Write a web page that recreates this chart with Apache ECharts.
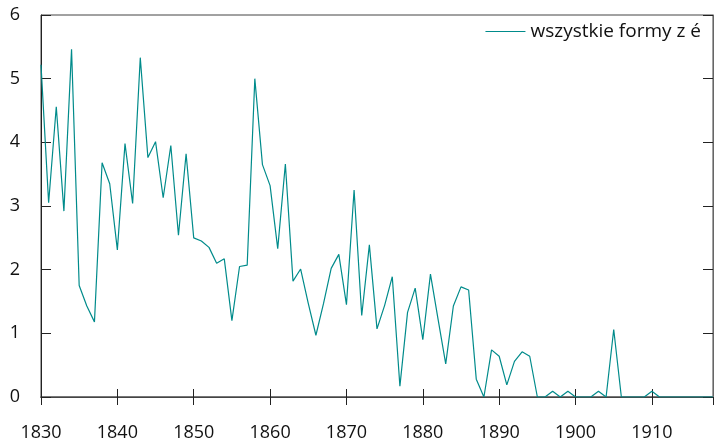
<!DOCTYPE html>
<html>
<head>
<meta charset="utf-8">
<script src="https://cdn.jsdelivr.net/npm/echarts@6/dist/echarts.min.js"></script>
<style>
  html, body { margin: 0; padding: 0; background: #fff; }
  #chart { width: 714px; height: 444px; }
</style>
</head>
<body>
<div id="chart"></div>
<script>
// lata 1830-1918, wartości
var years = [];
for (var y = 1830; y <= 1918; y++) years.push(y);

var values = [
  5.22, 3.05, 4.56, 2.92, 5.46, 1.75, 1.43, 1.18, 3.68, 3.35,
  2.31, 3.98, 3.04, 5.33, 3.76, 4.01, 3.13, 3.95, 2.54, 3.82,
  2.50, 2.45, 2.35, 2.10, 2.17, 1.20, 2.05, 2.07, 5.00, 3.65,
  3.32, 2.33, 3.66, 1.82, 2.01, 1.47, 0.97, 1.47, 2.02, 2.24,
  1.45, 3.25, 1.28, 2.39, 1.07, 1.44, 1.89, 0.17, 1.33, 1.71,
  0.90, 1.93, 1.22, 0.52, 1.43, 1.73, 1.68, 0.28, 0, 0.74,
  0.64, 0.19, 0.56, 0.71, 0.64, 0, 0, 0.09, 0, 0.09,
  0, 0, 0, 0.09, 0, 1.06, 0, 0, 0, 0,
  0.09, 0, 0, 0, 0, 0, 0, 0, 0
];

var seriesName = 'wszystkie formy z é';
var yTicks = [0, 1, 2, 3, 4, 5, 6];

var chart = echarts.init(document.getElementById('chart'));

var points = years.map(function(yr, i) { return [yr, values[i]]; });

option = {
  animation: false,
  backgroundColor: '#fff',
  textStyle: {fontFamily: 'Open Sans'},
  grid: {
    left: 41,
    right: 1,
    top: 15,
    bottom: 47,
    show: true,
    borderColor: '#444',
    borderWidth: 1
  },
  legend: {
    data: [seriesName],
    right: 8,
    top: 17,
    icon: 'rect',
    itemWidth: 40,
    itemHeight: 1.2,
    itemGap: 8,
    textStyle: {fontSize: 19, color: '#111', fontFamily: 'Open Sans'}
  },
  xAxis: [{
    type: 'value',
    min: 1830,
    max: 1918,
    interval: 10,
    splitLine: {show: false},
    axisLine: {lineStyle: {color: '#777', width: 2}},
    axisTick: {inside: true, length: 8, lineStyle: {color: '#222'}},
    axisLabel: {
      margin: 27,
      fontSize: 18,
      color: '#111',
      showMaxLabel: false,
      formatter: function(v) { return v % 10 === 0 ? String(v) : ''; }
    }
  }, {
    type: 'value',
    position: 'top',
    min: 1830,
    max: 1918,
    interval: 10,
    splitLine: {show: false},
    axisLine: {lineStyle: {color: '#444'}},
    axisTick: {inside: true, length: 8, lineStyle: {color: '#222'}},
    axisLabel: {show: false}
  }],
  yAxis: [{
    type: 'value',
    min: 0,
    max: 6,
    interval: 1,
    splitLine: {show: false},
    axisLine: {show: true, lineStyle: {color: '#222'}},
    axisTick: {show: true, inside: true, length: 10, lineStyle: {color: '#222'}},
    axisLabel: {
      margin: 21,
      fontSize: 18,
      color: '#111',
      formatter: function(v) { return yTicks.indexOf(v) >= 0 ? String(v) : ''; }
    }
  }, {
    type: 'value',
    position: 'right',
    min: 0,
    max: 6,
    interval: 1,
    splitLine: {show: false},
    axisLine: {show: true, lineStyle: {color: '#666'}},
    axisTick: {show: true, inside: true, length: 10, lineStyle: {color: '#222'}},
    axisLabel: {show: false}
  }],
  series: [{
    name: seriesName,
    type: 'line',
    data: points,
    symbol: 'none',
    lineStyle: {color: '#008b8b', width: 1.2},
    itemStyle: {color: '#008b8b'}
  }]
};

chart.setOption(option);
</script>
</body>
</html>
